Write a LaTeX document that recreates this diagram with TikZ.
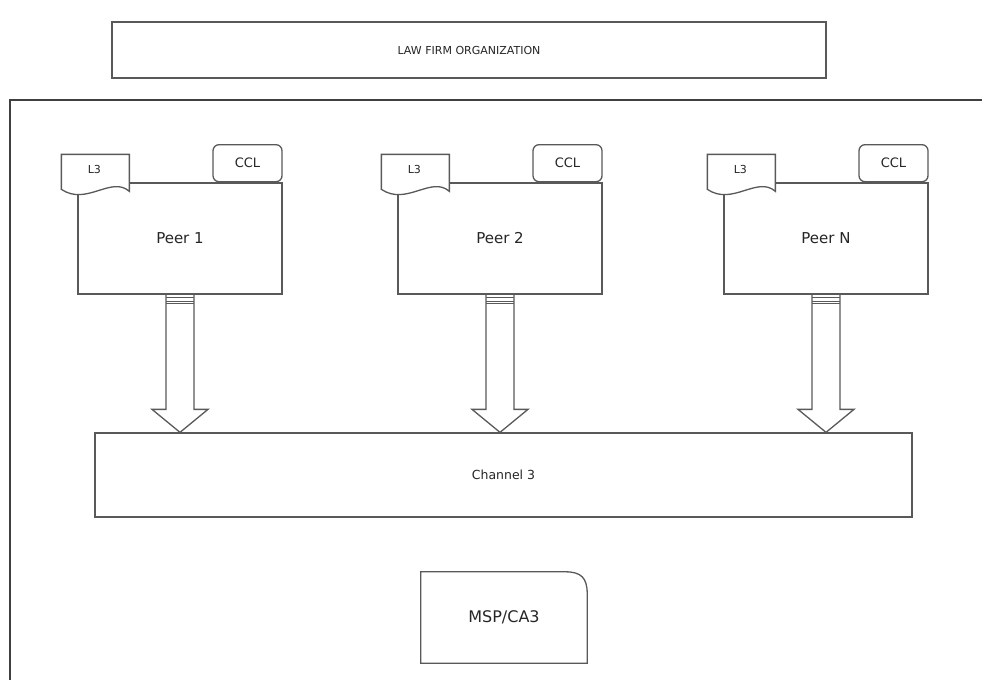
\documentclass[tikz,border=0pt]{standalone}
\usepackage{fontspec}
\setmainfont{DejaVu Sans}
\usetikzlibrary{calc}

\begin{document}
\begin{tikzpicture}[x=1pt, y=-1pt,
    every node/.style={text=black!85},
    box/.style={draw=black!65, line width=1.3pt, fill=white},
    peerbox/.style={box, minimum width=204pt, minimum height=111pt, font=\fontsize{15}{18}\selectfont},
    cclbox/.style={box, rounded corners=6pt, minimum width=69pt, minimum height=37pt, anchor=south east, font=\fontsize{13}{15}\selectfont},
    tagtext/.style={inner sep=0pt, font=\fontsize{11}{13}\selectfont},
    outline/.style={draw=black!65, line width=1.3pt, line join=miter},
    frame/.style={draw=black!75, line width=1.8pt}]
        \useasboundingbox (0,0) rectangle (982,680);

        % Header and organization frame
        \node[box, minimum width=714pt, minimum height=56pt, font=\fontsize{11}{13}\selectfont] (title) at (469,50) {LAW FIRM ORGANIZATION};
        \draw[frame] (10,680) -- (10,100) -- (982,100);

        % Peers
        \node[peerbox] (peerone) at (180,238.5) {Peer 1};
        \node[peerbox] (peertwo) at (500,238.5) {Peer 2};
        \node[peerbox] (peern) at (826,238.5) {Peer N};

        % CCL badges
        \node[cclbox] (cclone) at (peerone.north east) {CCL};
        \node[cclbox] (ccltwo) at (peertwo.north east) {CCL};
        \node[cclbox] (ccln) at (peern.north east) {CCL};

        % L3 ledger tags
        \draw[outline, fill=white] ($(peerone.north west)+(-16,-28)$) -- ++(68,0) -- ++(0,37) .. controls +(-18,-16) and +(25,17) .. ++(-68,-2) -- cycle;
        \node[tagtext] (lthreeone) at ($(peerone.north west)+(17,-13)$) {L3};
        \draw[outline, fill=white] ($(peertwo.north west)+(-16,-28)$) -- ++(68,0) -- ++(0,37) .. controls +(-18,-16) and +(25,17) .. ++(-68,-2) -- cycle;
        \node[tagtext] (lthreetwo) at ($(peertwo.north west)+(17,-13)$) {L3};
        \draw[outline, fill=white] ($(peern.north west)+(-16,-28)$) -- ++(68,0) -- ++(0,37) .. controls +(-18,-16) and +(25,17) .. ++(-68,-2) -- cycle;
        \node[tagtext] (lthreen) at ($(peern.north west)+(17,-13)$) {L3};

        % Channel and MSP
        \node[box, minimum width=817pt, minimum height=84pt, font=\fontsize{12.5}{15}\selectfont] (channel) at (503.5,475) {Channel 3};
        \node[minimum width=166pt, minimum height=91pt, font=\fontsize{16}{19}\selectfont] (msp) at (504,617.5) {MSP/CA3};
        \draw[outline] (msp.south west) -- (msp.north west) -- ($(msp.north east)+(-22,0)$) .. controls ($(msp.north east)+(-6,0)$) and ($(msp.north east)+(0,6)$) .. ($(msp.north east)+(0,22)$) -- (msp.south east) -- cycle;

        % Block arrows from peers down to the channel
        \draw[outline] ($(peerone.south)+(-14,0)$) -- ($(peerone.south |- channel.north)+(-14,-23)$) -- ++(-14,0) -- (peerone.south |- channel.north) -- ++(28,-23) -- ++(-14,0) -- ($(peerone.south)+(14,0)$);
        \draw[outline] ($(peerone.south)+(-14,3)$) -- ++(28,0) ($(peerone.south)+(-14,6.5)$) -- ++(28,0) ($(peerone.south)+(-14,9)$) -- ++(28,0);
        \draw[outline] ($(peertwo.south)+(-14,0)$) -- ($(peertwo.south |- channel.north)+(-14,-23)$) -- ++(-14,0) -- (peertwo.south |- channel.north) -- ++(28,-23) -- ++(-14,0) -- ($(peertwo.south)+(14,0)$);
        \draw[outline] ($(peertwo.south)+(-14,3)$) -- ++(28,0) ($(peertwo.south)+(-14,6.5)$) -- ++(28,0) ($(peertwo.south)+(-14,9)$) -- ++(28,0);
        \draw[outline] ($(peern.south)+(-14,0)$) -- ($(peern.south |- channel.north)+(-14,-23)$) -- ++(-14,0) -- (peern.south |- channel.north) -- ++(28,-23) -- ++(-14,0) -- ($(peern.south)+(14,0)$);
        \draw[outline] ($(peern.south)+(-14,3)$) -- ++(28,0) ($(peern.south)+(-14,6.5)$) -- ++(28,0) ($(peern.south)+(-14,9)$) -- ++(28,0);
\end{tikzpicture}
\end{document}
